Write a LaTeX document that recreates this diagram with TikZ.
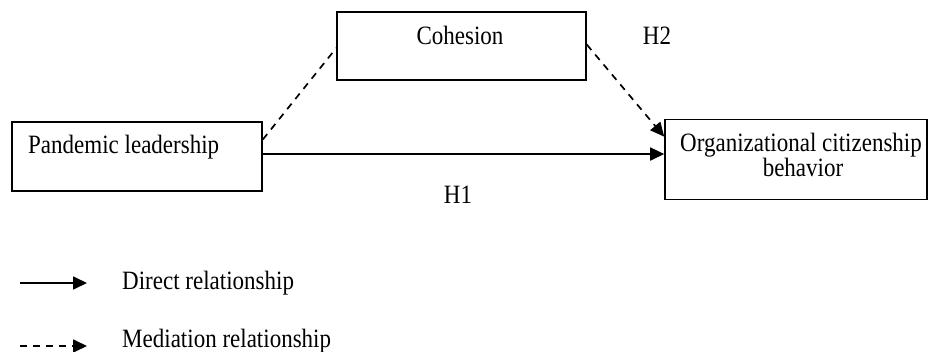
\documentclass[tikz,border=0pt]{standalone}
\usepackage{fontspec}
\setmainfont{Liberation Serif}
\usetikzlibrary{arrows.meta,calc}
\newcommand{\tallt}[1]{\scalebox{1}[1.15]{#1}}
\begin{document}
\begin{tikzpicture}[x=1pt,y=-1pt,
  box/.style={draw,line width=1.6pt,rectangle,inner sep=0pt},
  lbl/.style={inner sep=0pt,font=\fontsize{23}{25}\selectfont},
  conn/.style={line width=1.7pt,-{Triangle[length=14pt,width=13pt]}},
  dashconn/.style={conn,dash pattern=on 7pt off 6pt},
  dashline/.style={line width=1.7pt,dash pattern=on 7pt off 6pt}]
\useasboundingbox (0,0) rectangle (929,352);
% boxes
\node[box,minimum width=250pt,minimum height=69pt] (pl) at (137,156.5) {};
\node[box,minimum width=249pt,minimum height=68pt] (coh) at (461.5,46) {};
\node[box,minimum width=262pt,minimum height=80pt] (ocb) at (796,159.5) {};
% texts
\node[lbl,anchor=base west] (plt) at (28,154) {\tallt{Pandemic leadership}};
\node[lbl,anchor=base] (coht) at (460,45) {\tallt{Cohesion}};
\node[lbl,anchor=base] (ocbt1) at (801,152) {\tallt{Organizational citizenship}};
\node[lbl,anchor=base] (ocbt2) at (803,177) {\tallt{behavior}};
\node[lbl,anchor=base] (h1) at (458,204) {\tallt{H1}};
\node[lbl,anchor=base] (h2) at (657,45) {\tallt{H2}};
% connectors
\draw[dashline] ($(pl.north east)!0.26!(pl.south east)$) -- ($(coh.north west)!0.53!(coh.south west)$);
\draw[dashconn] ($(coh.north east)!0.48!(coh.south east)$) -- ($(ocb.north west)!0.22!(ocb.south west)$);
\coordinate (s1) at ($(pl.north east)!0.465!(pl.south east)$);
\draw[conn] (s1) -- (ocb.west |- s1);
% legend
\coordinate (la1) at (20,283);
\coordinate (la2) at (87,283);
\coordinate (lb1) at (20,346);
\coordinate (lb2) at (87,346);
\draw[conn] (la1) -- (la2);
\draw[dashconn] (lb1) -- (lb2);
\node[lbl,anchor=base west] (lt1) at (122,290) {\tallt{Direct relationship}};
\node[lbl,anchor=base west] (lt2) at (122,348) {\tallt{Mediation relationship}};
\end{tikzpicture}
\end{document}
